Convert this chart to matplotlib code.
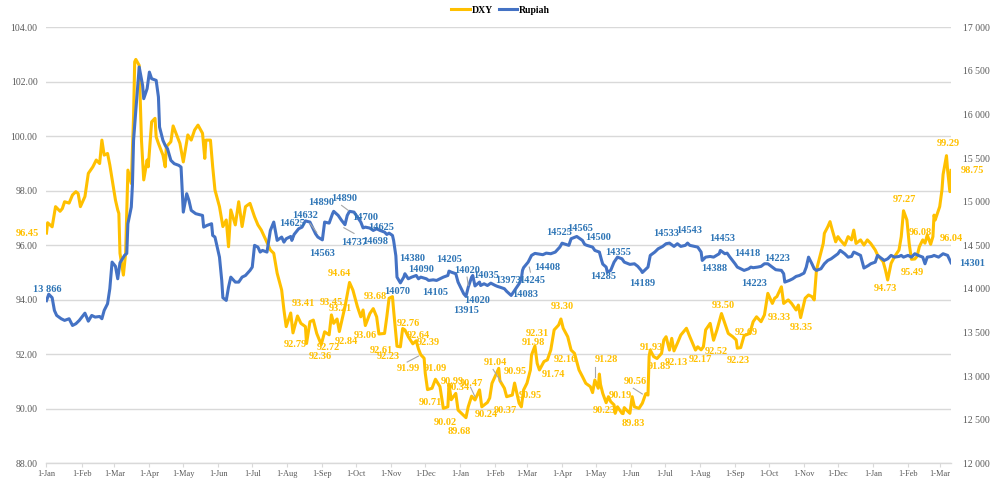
import matplotlib
matplotlib.use("Agg")
import matplotlib.pyplot as plt
import matplotlib.dates as mdates
from matplotlib.ticker import FuncFormatter, MultipleLocator
from matplotlib.lines import Line2D
import pandas as pd

# ---------------- data ----------------
dxy_dates = [
    "2020-01-01", "2020-01-02", "2020-01-06", "2020-01-09", "2020-01-13", "2020-01-15", "2020-01-17",
    "2020-01-21", "2020-01-24", "2020-01-27", "2020-01-29", "2020-01-31", "2020-02-04", "2020-02-07",
    "2020-02-11", "2020-02-14", "2020-02-17", "2020-02-19", "2020-02-21", "2020-02-24", "2020-02-26",
    "2020-03-02", "2020-03-04", "2020-03-05", "2020-03-06", "2020-03-09", "2020-03-11", "2020-03-13",
    "2020-03-16", "2020-03-18", "2020-03-19", "2020-03-20", "2020-03-23", "2020-03-25", "2020-03-27",
    "2020-03-30", "2020-03-31", "2020-04-03", "2020-04-06", "2020-04-07", "2020-04-09", "2020-04-13",
    "2020-04-15", "2020-04-16", "2020-04-20", "2020-04-22", "2020-04-24", "2020-04-28", "2020-05-01",
    "2020-05-05", "2020-05-08", "2020-05-11", "2020-05-14", "2020-05-18", "2020-05-20", "2020-05-21",
    "2020-05-25", "2020-05-27", "2020-05-29", "2020-06-02", "2020-06-05", "2020-06-08", "2020-06-10",
    "2020-06-12", "2020-06-16", "2020-06-19", "2020-06-22", "2020-06-25", "2020-06-29", "2020-07-03",
    "2020-07-06", "2020-07-09", "2020-07-13", "2020-07-17", "2020-07-20", "2020-07-23", "2020-07-27",
    "2020-07-29", "2020-07-31", "2020-08-04", "2020-08-06", "2020-08-10", "2020-08-13", "2020-08-17",
    "2020-08-18", "2020-08-21", "2020-08-24", "2020-08-27", "2020-08-31", "2020-09-03", "2020-09-07",
    "2020-09-09", "2020-09-11", "2020-09-14", "2020-09-16", "2020-09-21", "2020-09-25", "2020-09-28",
    "2020-10-02", "2020-10-05", "2020-10-07", "2020-10-09", "2020-10-13", "2020-10-16", "2020-10-19",
    "2020-10-21", "2020-10-26", "2020-10-28", "2020-10-30", "2020-11-02", "2020-11-03", "2020-11-06",
    "2020-11-09", "2020-11-11", "2020-11-13", "2020-11-16", "2020-11-20", "2020-11-23", "2020-11-25",
    "2020-11-27", "2020-11-30", "2020-12-01", "2020-12-03", "2020-12-07", "2020-12-10", "2020-12-14",
    "2020-12-17", "2020-12-21", "2020-12-22", "2020-12-24", "2020-12-28", "2020-12-30", "2021-01-06",
    "2021-01-08", "2021-01-11", "2021-01-14", "2021-01-18", "2021-01-20", "2021-01-25", "2021-01-27",
    "2021-01-29", "2021-02-04", "2021-02-05", "2021-02-09", "2021-02-11", "2021-02-16", "2021-02-18",
    "2021-02-22", "2021-02-24", "2021-02-26", "2021-03-01", "2021-03-04", "2021-03-05", "2021-03-08",
    "2021-03-10", "2021-03-12", "2021-03-16", "2021-03-19", "2021-03-22", "2021-03-25", "2021-03-29",
    "2021-03-31", "2021-04-02", "2021-04-06", "2021-04-09", "2021-04-12", "2021-04-16", "2021-04-19",
    "2021-04-22", "2021-04-26", "2021-04-28", "2021-04-30", "2021-05-03", "2021-05-04", "2021-05-05",
    "2021-05-07", "2021-05-10", "2021-05-12", "2021-05-14", "2021-05-17", "2021-05-18", "2021-05-20",
    "2021-05-24", "2021-05-25", "2021-05-26", "2021-05-28", "2021-05-31", "2021-06-02", "2021-06-04",
    "2021-06-08", "2021-06-11", "2021-06-14", "2021-06-16", "2021-06-17", "2021-06-18", "2021-06-21",
    "2021-06-24", "2021-06-28", "2021-06-30", "2021-07-02", "2021-07-05", "2021-07-07", "2021-07-09",
    "2021-07-12", "2021-07-15", "2021-07-20", "2021-07-23", "2021-07-28", "2021-07-30", "2021-08-02",
    "2021-08-04", "2021-08-06", "2021-08-10", "2021-08-13", "2021-08-16", "2021-08-20", "2021-08-23",
    "2021-08-26", "2021-08-30", "2021-09-02", "2021-09-03", "2021-09-06", "2021-09-09", "2021-09-14",
    "2021-09-17", "2021-09-20", "2021-09-24", "2021-09-27", "2021-09-30", "2021-10-04", "2021-10-06",
    "2021-10-08", "2021-10-12", "2021-10-14", "2021-10-18", "2021-10-21", "2021-10-25", "2021-10-27",
    "2021-10-29", "2021-11-02", "2021-11-05", "2021-11-08", "2021-11-10", "2021-11-12", "2021-11-15",
    "2021-11-18", "2021-11-19", "2021-11-22", "2021-11-24", "2021-11-26", "2021-11-29", "2021-12-01",
    "2021-12-03", "2021-12-07", "2021-12-10", "2021-12-13", "2021-12-15", "2021-12-17", "2021-12-21",
    "2021-12-24", "2021-12-27", "2021-12-30", "2022-01-03", "2022-01-05", "2022-01-10", "2022-01-12",
    "2022-01-14", "2022-01-17", "2022-01-20", "2022-01-24", "2022-01-26", "2022-01-28", "2022-01-31",
    "2022-02-02", "2022-02-04", "2022-02-07", "2022-02-09", "2022-02-11", "2022-02-14", "2022-02-16",
    "2022-02-18", "2022-02-21", "2022-02-23", "2022-02-24", "2022-02-25", "2022-03-01", "2022-03-03",
    "2022-03-04", "2022-03-07", "2022-03-08", "2022-03-10", "2022-03-11",
]
dxy_values = [
    96.45, 96.83, 96.68, 97.42, 97.25, 97.35, 97.60,
    97.55, 97.85, 97.97, 97.90, 97.42, 97.79, 98.64,
    98.88, 99.13, 99.00, 99.86, 99.31, 99.37, 98.95,
    97.66, 97.30, 97.17, 95.71, 94.91, 95.72, 98.76,
    98.27, 100.72, 102.73, 102.82, 102.60, 99.86, 98.40,
    99.13, 98.88, 100.53, 100.66, 99.98, 99.74, 99.31,
    98.88, 99.62, 99.80, 100.38, 100.17, 99.74, 99.06,
    100.05, 99.86, 100.23, 100.41, 100.11, 99.19, 99.86,
    99.86, 98.88, 98.03, 97.42, 96.69, 96.93, 95.95,
    97.30, 96.75, 97.60, 96.69, 97.42, 97.54, 97.05,
    96.75, 96.56, 96.20, 95.83, 95.71, 94.98, 94.36,
    93.63, 93.02, 93.52, 92.79, 93.41, 93.14, 93.02,
    92.40, 93.20, 93.26, 92.77, 92.36, 92.83, 92.72,
    93.45, 93.14, 93.30, 92.84, 93.75, 94.64, 94.36,
    93.75, 93.38, 93.63, 93.06, 93.50, 93.68, 93.38,
    92.75, 92.77, 93.38, 94.06, 94.12, 93.63, 92.30,
    92.28, 92.95, 92.90, 92.65, 92.39, 92.50, 92.20,
    91.99, 91.86, 91.31, 90.71, 90.76, 91.09, 90.82,
    90.02, 90.08, 90.90, 90.34, 90.57, 89.96, 89.68,
    90.08, 90.47, 90.33, 90.70, 90.08, 90.24, 90.40,
    90.94, 91.49, 91.04, 90.76, 90.45, 90.51, 90.95,
    90.21, 90.08, 90.70, 90.95, 91.43, 91.98, 92.31,
    91.67, 91.43, 91.74, 91.80, 92.16, 92.90, 93.08,
    93.30, 92.96, 92.65, 92.16, 92.04, 91.43, 91.19,
    90.94, 90.82, 90.60, 91.06, 90.76, 91.28, 90.90,
    90.57, 90.23, 90.45, 90.27, 90.15, 89.84, 90.08,
    89.84, 89.83, 90.05, 89.96, 89.84, 90.45, 90.08,
    90.02, 90.21, 90.56, 90.51, 91.93, 92.16, 91.92,
    91.85, 92.04, 92.53, 92.65, 92.16, 92.59, 92.13,
    92.41, 92.71, 92.96, 92.65, 92.16, 92.28, 92.17,
    92.28, 92.90, 93.14, 92.52, 92.90, 93.50, 93.14,
    92.77, 92.65, 92.53, 92.23, 92.25, 92.69, 92.77,
    93.20, 93.38, 93.20, 93.45, 94.24, 93.87, 94.06,
    94.12, 94.48, 93.87, 94.00, 93.87, 93.63, 93.81,
    93.35, 94.06, 94.18, 94.12, 94.00, 95.10, 95.58,
    96.07, 96.44, 96.68, 96.87, 96.56, 96.13, 96.32,
    96.20, 96.01, 96.32, 96.20, 96.56, 96.07, 96.20,
    96.01, 96.20, 96.07, 95.83, 95.65, 95.40, 95.10,
    94.73, 95.34, 95.58, 95.83, 96.32, 97.27, 96.93,
    96.07, 95.49, 95.50, 95.60, 95.95, 96.20, 96.08,
    96.38, 96.04, 96.32, 97.11, 96.93, 97.42, 98.03,
    98.60, 99.29, 98.76, 97.97, 98.75,
]

idr_dates = [
    "2020-01-01", "2020-01-03", "2020-01-06", "2020-01-08", "2020-01-10", "2020-01-14", "2020-01-17",
    "2020-01-21", "2020-01-24", "2020-01-27", "2020-01-30", "2020-02-04", "2020-02-07", "2020-02-10",
    "2020-02-13", "2020-02-17", "2020-02-19", "2020-02-21", "2020-02-24", "2020-02-26", "2020-02-28",
    "2020-03-02", "2020-03-04", "2020-03-06", "2020-03-10", "2020-03-12", "2020-03-13", "2020-03-16",
    "2020-03-17", "2020-03-18", "2020-03-20", "2020-03-23", "2020-03-26", "2020-03-27", "2020-03-30",
    "2020-04-01", "2020-04-03", "2020-04-07", "2020-04-09", "2020-04-10", "2020-04-13", "2020-04-15",
    "2020-04-17", "2020-04-20", "2020-04-23", "2020-04-27", "2020-04-29", "2020-05-01", "2020-05-04",
    "2020-05-06", "2020-05-08", "2020-05-12", "2020-05-18", "2020-05-19", "2020-05-22", "2020-05-26",
    "2020-05-27", "2020-05-29", "2020-06-02", "2020-06-04", "2020-06-05", "2020-06-08", "2020-06-10",
    "2020-06-12", "2020-06-16", "2020-06-19", "2020-06-22", "2020-06-25", "2020-06-29", "2020-07-01",
    "2020-07-03", "2020-07-06", "2020-07-08", "2020-07-10", "2020-07-14", "2020-07-17", "2020-07-20",
    "2020-07-23", "2020-07-27", "2020-07-29", "2020-07-31", "2020-08-04", "2020-08-05", "2020-08-07",
    "2020-08-11", "2020-08-14", "2020-08-17", "2020-08-21", "2020-08-26", "2020-08-28", "2020-09-01",
    "2020-09-03", "2020-09-07", "2020-09-10", "2020-09-11", "2020-09-15", "2020-09-18", "2020-09-21",
    "2020-09-23", "2020-09-25", "2020-09-29", "2020-10-02", "2020-10-05", "2020-10-07", "2020-10-09",
    "2020-10-13", "2020-10-16", "2020-10-19", "2020-10-22", "2020-10-26", "2020-10-28", "2020-10-30",
    "2020-11-02", "2020-11-03", "2020-11-05", "2020-11-06", "2020-11-09", "2020-11-12", "2020-11-13",
    "2020-11-16", "2020-11-19", "2020-11-23", "2020-11-25", "2020-11-27", "2020-12-02", "2020-12-04",
    "2020-12-08", "2020-12-11", "2020-12-14", "2020-12-17", "2020-12-21", "2020-12-22", "2020-12-24",
    "2020-12-28", "2020-12-30", "2021-01-04", "2021-01-06", "2021-01-08", "2021-01-11", "2021-01-12",
    "2021-01-14", "2021-01-18", "2021-01-19", "2021-01-22", "2021-01-25", "2021-01-28", "2021-02-01",
    "2021-02-03", "2021-02-05", "2021-02-09", "2021-02-11", "2021-02-15", "2021-02-18", "2021-02-22",
    "2021-02-24", "2021-02-25", "2021-02-26", "2021-03-02", "2021-03-05", "2021-03-08", "2021-03-10",
    "2021-03-15", "2021-03-18", "2021-03-22", "2021-03-26", "2021-03-30", "2021-04-01", "2021-04-07",
    "2021-04-09", "2021-04-14", "2021-04-19", "2021-04-21", "2021-04-23", "2021-04-28", "2021-04-30",
    "2021-05-04", "2021-05-06", "2021-05-07", "2021-05-10", "2021-05-11", "2021-05-14", "2021-05-17",
    "2021-05-20", "2021-05-24", "2021-05-26", "2021-05-31", "2021-06-04", "2021-06-07", "2021-06-10",
    "2021-06-11", "2021-06-16", "2021-06-18", "2021-06-22", "2021-06-25", "2021-06-29", "2021-07-02",
    "2021-07-05", "2021-07-09", "2021-07-12", "2021-07-15", "2021-07-19", "2021-07-21", "2021-07-23",
    "2021-07-27", "2021-07-30", "2021-08-02", "2021-08-03", "2021-08-06", "2021-08-10", "2021-08-13",
    "2021-08-18", "2021-08-19", "2021-08-23", "2021-08-25", "2021-08-27", "2021-09-01", "2021-09-03",
    "2021-09-06", "2021-09-09", "2021-09-13", "2021-09-15", "2021-09-17", "2021-09-21", "2021-09-24",
    "2021-09-27", "2021-09-30", "2021-10-04", "2021-10-07", "2021-10-12", "2021-10-14", "2021-10-15",
    "2021-10-19", "2021-10-22", "2021-10-25", "2021-10-28", "2021-11-01", "2021-11-03", "2021-11-05",
    "2021-11-08", "2021-11-10", "2021-11-12", "2021-11-16", "2021-11-19", "2021-11-22", "2021-11-25",
    "2021-11-29", "2021-12-01", "2021-12-03", "2021-12-07", "2021-12-10", "2021-12-13", "2021-12-15",
    "2021-12-17", "2021-12-21", "2021-12-24", "2021-12-28", "2021-12-30", "2022-01-03", "2022-01-05",
    "2022-01-07", "2022-01-11", "2022-01-14", "2022-01-17", "2022-01-20", "2022-01-24", "2022-01-26",
    "2022-01-28", "2022-02-01", "2022-02-04", "2022-02-07", "2022-02-10", "2022-02-14", "2022-02-16",
    "2022-02-18", "2022-02-22", "2022-02-24", "2022-02-28", "2022-03-02", "2022-03-04", "2022-03-08",
    "2022-03-11",
]
idr_values = [
    13866, 13940, 13900, 13754, 13697, 13659, 13640,
    13659, 13582, 13602, 13640, 13723, 13631, 13697,
    13678, 13685, 13659, 13754, 13831, 14003, 14308,
    14260, 14117, 14300, 14385, 14408, 14748, 14939,
    15187, 15703, 16047, 16544, 16334, 16181, 16296,
    16486, 16410, 16391, 16200, 15856, 15703, 15646,
    15608, 15474, 15436, 15417, 15397, 14881, 15092,
    15015, 14901, 14863, 14843, 14709, 14729, 14748,
    14614, 14595, 14365, 14098, 13900, 13869, 14021,
    14136, 14079, 14079, 14136, 14155, 14213, 14251,
    14500, 14480, 14423, 14442, 14423, 14671, 14767,
    14557, 14595, 14537, 14576, 14602, 14557, 14625,
    14690, 14709, 14780, 14767, 14632, 14595, 14563,
    14767, 14755, 14863, 14890, 14843, 14786, 14737,
    14843, 14890, 14881, 14824, 14767, 14700, 14709,
    14698, 14671, 14690, 14671, 14652, 14625, 14640,
    14614, 14557, 14380, 14136, 14070, 14136, 14175,
    14117, 14136, 14155, 14117, 14136, 14117, 14098,
    14105, 14098, 14117, 14136, 14155, 14205, 14193,
    14175, 14079, 13946, 13915, 14020, 14136, 14155,
    14035, 14079, 14040, 14060, 14040, 14067, 14040,
    14029, 14021, 14003, 13973, 13926, 13983, 14060,
    14117, 14213, 14245, 14308, 14385, 14408, 14404,
    14393, 14411, 14404, 14423, 14480, 14525, 14500,
    14576, 14602, 14557, 14511, 14500, 14480, 14442,
    14423, 14327, 14285, 14251, 14193, 14213, 14308,
    14365, 14346, 14308, 14282, 14289, 14259, 14213,
    14189, 14251, 14385, 14423, 14461, 14488, 14519,
    14526, 14488, 14519, 14488, 14500, 14526, 14500,
    14488, 14480, 14423, 14327, 14365, 14373, 14365,
    14404, 14442, 14404, 14411, 14373, 14289, 14251,
    14232, 14213, 14232, 14251, 14244, 14251, 14259,
    14289, 14289, 14251, 14221, 14213, 14175, 14079,
    14098, 14117, 14144, 14155, 14182, 14251, 14365,
    14289, 14232, 14213, 14232, 14289, 14327, 14346,
    14385, 14404, 14442, 14404, 14365, 14373, 14423,
    14411, 14385, 14240, 14270, 14289, 14308, 14385,
    14365, 14327, 14346, 14385, 14365, 14373, 14385,
    14365, 14385, 14365, 14404, 14385, 14365, 14289,
    14365, 14373, 14385, 14365, 14385, 14404, 14385,
    14301,
]

# data labels: text, date, vertical position (axis units)
dxy_label_text = ["96.45", "94.64", "93.41", "93.45", "93.21", "93.68", "92.79", "92.72", "92.84",
                  "93.06", "92.76", "92.64", "92.39", "92.36", "92.61", "92.23", "91.99", "91.09",
                  "90.71", "90.99", "90.34", "90.47", "90.02", "89.68", "91.04", "90.95", "90.24",
                  "90.37", "90.95", "92.31", "91.98", "93.30", "92.16", "91.74", "91.28", "90.23",
                  "90.19", "90.56", "89.83", "91.93", "91.85", "92.13", "92.17", "92.52", "93.50",
                  "92.69", "92.23", "93.33", "93.35", "97.27", "96.08", "96.04", "95.49", "94.73",
                  "99.29", "98.75"]
dxy_label_date = ["2019-12-15", "2020-09-16", "2020-08-15", "2020-09-09", "2020-09-17", "2020-10-18",
                  "2020-08-08", "2020-09-06", "2020-09-22", "2020-10-09", "2020-11-16", "2020-11-25",
                  "2020-12-04", "2020-08-30", "2020-10-23", "2020-10-29", "2020-11-16", "2020-12-10",
                  "2020-12-06", "2020-12-25", "2020-12-30", "2021-01-11", "2020-12-19", "2020-12-31",
                  "2021-02-01", "2021-02-19", "2021-01-24", "2021-02-10", "2021-03-04", "2021-03-10",
                  "2021-03-07", "2021-04-01", "2021-04-04", "2021-03-24", "2021-05-10", "2021-05-08",
                  "2021-05-23", "2021-06-05", "2021-06-03", "2021-06-19", "2021-06-26", "2021-07-11",
                  "2021-08-01", "2021-08-15", "2021-08-22", "2021-09-11", "2021-09-04", "2021-10-10",
                  "2021-10-30", "2022-01-29", "2022-02-12", "2022-03-11", "2022-02-05", "2022-01-12",
                  "2022-03-09", "2022-03-30"]
dxy_label_pos = [96.42, 94.95, 93.85, 93.89, 93.67, 94.11, 92.35, 92.27, 92.46, 92.71, 93.15, 92.71,
                 92.42, 91.91, 92.13, 91.91, 91.47, 91.50, 90.22, 90.99, 90.77, 90.95, 89.52, 89.19,
                 91.69, 91.39, 89.78, 89.93, 90.48, 92.75, 92.42, 93.74, 91.83, 91.25, 91.83, 89.93,
                 90.51, 90.99, 89.45, 92.27, 91.54, 91.69, 91.83, 92.09, 93.81, 92.82, 91.76, 93.37,
                 93.00, 97.70, 96.49, 96.27, 94.99, 94.40, 99.75, 98.73]

idr_label_text = ["13 866", "14625", "14632", "14890", "14563", "14890", "14700", "14625", "14737",
                  "14698", "14380", "14090", "14070", "14105", "14205", "14020", "14035", "13973",
                  "14245", "14083", "14408", "14525", "14565", "14500", "14285", "14355", "14189",
                  "14533", "14543", "14453", "14388", "14418", "14223", "14223", "14301", "13915",
                  "14020"]
idr_label_date = ["2020-01-02", "2020-08-05", "2020-08-17", "2020-08-31", "2020-09-01", "2020-09-20",
                  "2020-10-09", "2020-10-23", "2020-09-29", "2020-10-18", "2020-11-19", "2020-11-27",
                  "2020-11-06", "2020-12-10", "2020-12-22", "2021-01-07", "2021-01-24", "2021-02-12",
                  "2021-03-06", "2021-02-27", "2021-03-19", "2021-03-29", "2021-04-17", "2021-05-03",
                  "2021-05-07", "2021-05-21", "2021-06-11", "2021-07-02", "2021-07-22", "2021-08-21",
                  "2021-08-14", "2021-09-12", "2021-10-08", "2021-09-18", "2022-03-30", "2021-01-06",
                  "2021-01-16"]
idr_label_pos = [13995, 14752, 14843, 14992, 14408, 15038, 14820, 14706, 14534, 14545, 14350, 14224,
                 13972, 13961, 14339, 14213, 14155, 14098, 14098, 13938, 14247, 14648, 14693, 14591,
                 14144, 14419, 14064, 14637, 14671, 14580, 14236, 14408, 14350, 14064, 14293, 13754,
                 13869]

# leader lines (label -> point): start date, start value, end date, end value
dxy_leaders = [("2020-11-15", 91.72, "2020-11-25", 91.94),
               ("2021-01-30", 91.45, "2021-02-06", 91.00),
               ("2021-01-10", 90.80, "2021-01-14", 90.45),
               ("2021-04-30", 91.54, "2021-04-30", 91.17),
               ("2021-06-03", 90.76, "2021-06-11", 90.55)]
idr_leaders = [("2020-08-21", 14752, "2020-08-27", 14648),
               ("2020-09-18", 14958, "2020-09-24", 14900),
               ("2020-09-20", 14702, "2020-09-29", 14637),
               ("2021-03-03", 14251, "2021-03-04", 14193),
               ("2021-01-07", 14136, "2021-01-08", 14040)]

x_start, x_end = "2020-01-01", "2022-03-11"

# ---------------- style ----------------
YELLOW = "#FFC000"
BLUE = "#4472C4"
BLUE_TXT = "#2E75B6"
GRID = "#D9D9D9"
TICK = "#595959"
LEADER = "#A6A6A6"
FONT = "Liberation Serif"
plt.rcParams["font.family"] = [FONT, "DejaVu Serif"]

fig = plt.figure(figsize=(10.01, 4.79), dpi=100)
ax = fig.add_axes([0.04645, 0.03236, 0.9036, 0.9108])
ax2 = ax.twinx()

ax.plot(pd.to_datetime(dxy_dates), dxy_values, color=YELLOW, lw=2.2,
        solid_joinstyle="round", label="DXY")
ax2.plot(pd.to_datetime(idr_dates), idr_values, color=BLUE, lw=2.2,
         solid_joinstyle="round", label="Rupiah")

ax.set_xlim(pd.Timestamp(x_start), pd.Timestamp(x_end))
ax.set_ylim(88, 104)
ax.yaxis.set_major_locator(MultipleLocator(2))
ax.yaxis.set_major_formatter(FuncFormatter(lambda v, p: f"{v:.2f}"))
ax2.set_ylim(12000, 17000)
ax2.yaxis.set_major_locator(MultipleLocator(500))
ax2.yaxis.set_major_formatter(FuncFormatter(lambda v, p: f"{int(round(v)):,}".replace(",", " ")))

ax.xaxis.set_major_locator(mdates.MonthLocator())
ax.xaxis.set_major_formatter(FuncFormatter(lambda v, p: "1-" + mdates.num2date(v).strftime("%b")))

ax.set_axisbelow(True)
ax.grid(axis="y", color=GRID, lw=1)
for a in (ax, ax2):
    for s in ("top", "left", "right"):
        a.spines[s].set_visible(False)
ax2.spines["bottom"].set_visible(False)
ax.spines["bottom"].set_color(GRID)
ax.spines["bottom"].set_linewidth(1)

ax.tick_params(axis="y", length=0, labelsize=7, labelcolor=TICK, pad=6.5)
ax.tick_params(axis="x", length=3, width=0.8, color=GRID, labelsize=6, labelcolor=TICK, pad=2)
ax2.tick_params(axis="y", length=0, labelsize=7, labelcolor=TICK, pad=8.5)

# leader lines
for d0, v0, d1, v1 in dxy_leaders:
    ax.plot([pd.Timestamp(d0), pd.Timestamp(d1)], [v0, v1], color=LEADER, lw=0.8, zorder=4)
for d0, v0, d1, v1 in idr_leaders:
    ax2.plot([pd.Timestamp(d0), pd.Timestamp(d1)], [v0, v1], color=LEADER, lw=0.8, zorder=4)

# data labels
for t, d, v in zip(dxy_label_text, dxy_label_date, dxy_label_pos):
    ax.text(pd.Timestamp(d), v, t, color=YELLOW, fontsize=7.5, fontweight="bold",
            ha="center", va="center", clip_on=False, zorder=5)
for t, d, v in zip(idr_label_text, idr_label_date, idr_label_pos):
    ax2.text(pd.Timestamp(d), v, t, color=BLUE_TXT, fontsize=7.5, fontweight="bold",
             ha="center", va="center", clip_on=False, zorder=5)

handles = [Line2D([], [], color=YELLOW, lw=2.2), Line2D([], [], color=BLUE, lw=2.2)]
fig.legend(handles, ["DXY", "Rupiah"], loc="center", bbox_to_anchor=(0.5, 0.979), ncol=2,
           frameon=False, handlelength=1.9, handletextpad=0.2, columnspacing=0.6,
           prop={"family": FONT, "weight": "bold", "size": 7})

fig.savefig("out.png", dpi=100)
